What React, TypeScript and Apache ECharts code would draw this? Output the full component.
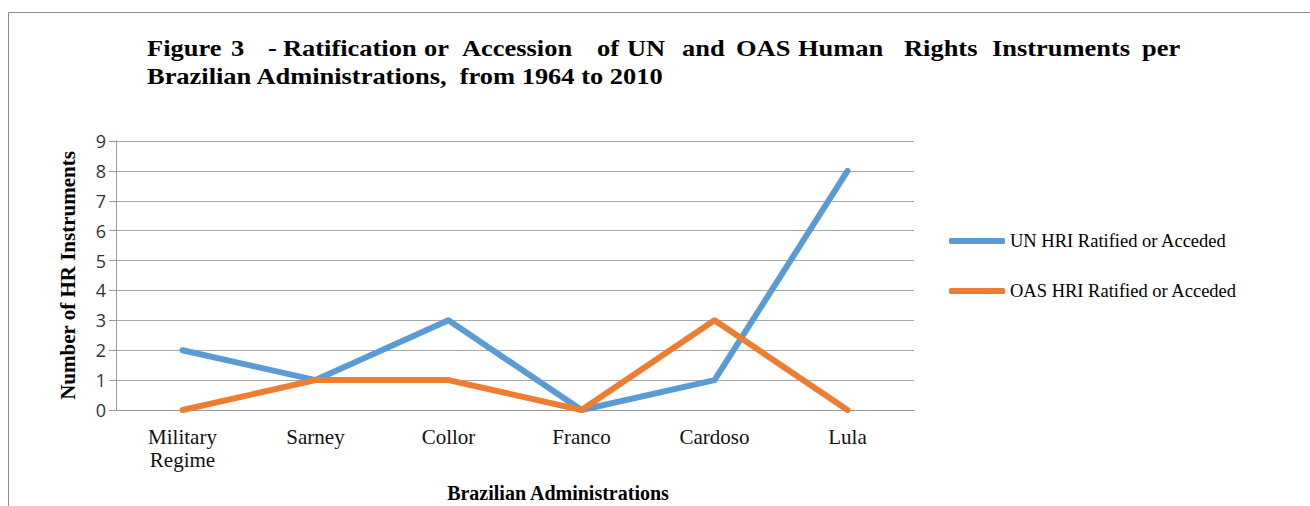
import React, { useEffect, useRef } from "react";
import * as echarts from "echarts";

const categories = ["Military\nRegime", "Sarney", "Collor", "Franco", "Cardoso", "Lula"];
const unValues = [2, 1, 3, 0, 1, 8];
const oasValues = [0, 1, 1, 0, 3, 0];
const seriesNames = ["UN HRI Ratified or Acceded", "OAS HRI Ratified or Acceded"];
const titleLine1 = ["Figure", "3", "-", "Ratification", "or", "Accession", "of", "UN", "and", "OAS", "Human", "Rights", "Instruments", "per"];
const titleLine1X = [147, 231, 268, 283, 424, 462, 597, 627, 682, 736, 798, 904, 992, 1142];
const titleLine2 = "Brazilian Administrations,  from 1964 to 2010";
const yAxisName = "Number of HR Instruments";
const xAxisName = "Brazilian Administrations";

const SERIF = "'Liberation Serif', 'Times New Roman', serif";

export default function App() {
  const ref = useRef<HTMLDivElement>(null);
  useEffect(() => {
    if (!ref.current) return;
    const chart = echarts.init(ref.current, undefined, { renderer: "svg" });
    const titleFont = `bold 23px ${SERIF}`;
    const graphic: any[] = [
      {
        type: "rect",
        shape: { x: 8.5, y: 12.5, width: 1400, height: 600 },
        style: { fill: "none", stroke: "#8c8c8c", lineWidth: 1 },
        silent: true,
      },
      ...titleLine1.map((w, i) => ({
        type: "text",
        x: titleLine1X[i],
        y: 48,
        scaleX: 1.15,
        style: { text: w, font: titleFont, fill: "#000", verticalAlign: "middle", align: "left" },
      })),
      {
        type: "text",
        x: 147,
        y: 76,
        scaleX: 1.15,
        style: { text: titleLine2, font: titleFont, fill: "#000", verticalAlign: "middle", align: "left" },
      },
      {
        type: "text",
        x: 558,
        y: 493,
        style: { text: xAxisName, font: `bold 20px ${SERIF}`, fill: "#000", verticalAlign: "middle", align: "center" },
      },
    ];
    chart.setOption({
      animation: false,
      backgroundColor: "#fff",
      graphic,
      grid: { left: 116, right: 396, top: 141, bottom: 96, containLabel: false },
      legend: {
        orient: "vertical",
        left: 944,
        top: 225,
        itemWidth: 56,
        itemHeight: 6,
        itemGap: 28,
        icon: "roundRect",
        data: seriesNames,
        textStyle: { fontFamily: SERIF, fontSize: 18.5, lineHeight: 22, color: "#000" },
      },
      xAxis: {
        type: "category",
        data: categories,
        boundaryGap: true,
        axisLine: { show: true, lineStyle: { color: "#9a9a9a", width: 1 } },
        axisTick: { show: false },
        axisLabel: { fontFamily: SERIF, fontSize: 21, color: "#111", margin: 15, lineHeight: 23, interval: 0 },
        splitLine: { show: false },
      },
      yAxis: {
        type: "value",
        min: 0,
        max: 9,
        interval: 1,
        name: yAxisName,
        nameLocation: "middle",
        nameGap: 38,
        nameTextStyle: { fontFamily: SERIF, fontSize: 21, fontWeight: "bold", color: "#000" },
        axisLine: { show: true, lineStyle: { color: "#9a9a9a", width: 1 } },
        axisTick: { show: true, length: 7, lineStyle: { color: "#9a9a9a" } },
        axisLabel: { fontFamily: "'Open Sans', 'Noto Sans', sans-serif", fontSize: 18, color: "#333", margin: 10 },
        splitLine: { show: true, lineStyle: { color: "#a6a6a6", width: 1 } },
      },
      series: [
        {
          name: seriesNames[0],
          type: "line",
          data: unValues,
          symbol: "none",
          color: "#5B9BD5",
          lineStyle: { width: 6, color: "#5B9BD5", cap: "round", join: "round" },
        },
        {
          name: seriesNames[1],
          type: "line",
          data: oasValues,
          symbol: "none",
          color: "#ED7D31",
          lineStyle: { width: 6, color: "#ED7D31", cap: "round", join: "round" },
        },
      ],
    });
    return () => chart.dispose();
  }, []);
  return (
    <div
      ref={ref}
      style={{ position: "absolute", left: 0, top: 0, width: 1310, height: 506 }}
    />
  );
}
